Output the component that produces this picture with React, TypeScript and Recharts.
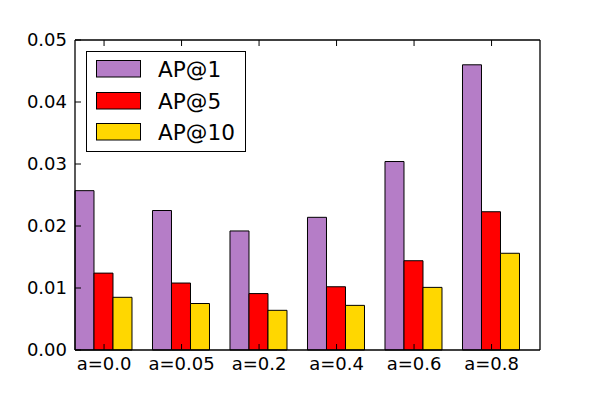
import { BarChart, Bar, XAxis, YAxis } from "recharts";

const categories = ["a=0.0", "a=0.05", "a=0.2", "a=0.4", "a=0.6", "a=0.8"];
const ap1 = [0.0257, 0.0225, 0.0192, 0.0214, 0.0304, 0.046];
const ap5 = [0.0124, 0.0108, 0.0091, 0.0102, 0.0144, 0.0223];
const ap10 = [0.0085, 0.0075, 0.0064, 0.0072, 0.0101, 0.0156];
const yTicks = [0, 0.01, 0.02, 0.03, 0.04, 0.05];

const SERIES = [
  { key: "ap1", name: "AP@1", color: "#b57dc7" },
  { key: "ap5", name: "AP@5", color: "#ff0000" },
  { key: "ap10", name: "AP@10", color: "#ffd700" },
];

const FONT = "'DejaVu Sans', sans-serif";
const TICK_LEN = 6;

// inward tick marks (matplotlib classic style), drawn by the tick renderer
function makeTick(side: "bottom" | "top" | "left" | "right", margin: number, fmt?: (v: any) => string) {
  return (props: any) => {
    const { x, y, payload } = props;
    let line;
    if (side === "bottom") line = <line x1={x} x2={x} y1={y - margin} y2={y - margin - TICK_LEN} stroke="#000" />;
    else if (side === "top") line = <line x1={x} x2={x} y1={y + margin} y2={y + margin + TICK_LEN} stroke="#000" />;
    else if (side === "left") line = <line x1={x + margin} x2={x + margin + TICK_LEN} y1={y} y2={y} stroke="#000" />;
    else line = <line x1={x - margin} x2={x - margin - TICK_LEN} y1={y} y2={y} stroke="#000" />;
    let label = null;
    if (fmt) {
      const txt = fmt(payload.value);
      label = side === "bottom"
        ? <text x={x} y={y} dy="0.71em" textAnchor="middle" fill="#000" fontSize={18} fontFamily={FONT}>{txt}</text>
        : <text x={x} y={y} dy="0.355em" textAnchor="end" fill="#000" fontSize={18} fontFamily={FONT}>{txt}</text>;
    }
    return <g>{line}{label}</g>;
  };
}

export default function App() {
  const data = categories.map((c, i) => ({ cat: c, ap1: ap1[i], ap5: ap5[i], ap10: ap10[i] }));
  const pad = { left: -9.7, right: 9.7 };
  const axisLine = { stroke: "#000", strokeWidth: 1.3 };
  return (
    <div style={{ position: "absolute", left: 0, top: 0, width: 600, height: 400, background: "#fff" }}>
      <BarChart width={600} height={400} data={data} margin={{ top: 39, right: 0, bottom: 0, left: 0 }}
        barCategoryGap="12.5%" barGap={0}>
        {SERIES.map((s) => (
          <Bar key={s.key} dataKey={s.key} name={s.name} fill={s.color} stroke="#000" strokeWidth={1}
            isAnimationActive={false} />
        ))}
        <XAxis dataKey="cat" height={50} padding={pad} tick={makeTick("bottom", 7, (v) => String(v))}
          tickSize={0} tickMargin={7} tickLine={false} axisLine={axisLine} interval={0} />
        <XAxis xAxisId="top" dataKey="cat" orientation="top" height={1} padding={pad} tick={makeTick("top", 0)}
          tickSize={0} tickMargin={0} tickLine={false} axisLine={axisLine} interval={0} />
        <YAxis width={75} domain={[0, 0.05]} ticks={yTicks} tick={makeTick("left", 8, (v: number) => v.toFixed(2))}
          tickSize={0} tickMargin={8} tickLine={false} axisLine={axisLine} />
        <YAxis yAxisId="right" orientation="right" width={60} domain={[0, 0.05]} ticks={yTicks}
          tick={makeTick("right", 0)} tickSize={0} tickMargin={0} tickLine={false} axisLine={axisLine} />
      </BarChart>
      <div style={{ position: "absolute", left: 86, top: 51, width: 158, height: 99, border: "1.3px solid #000",
        background: "#fff", fontFamily: FONT, fontSize: 21.6, color: "#000" }}>
        {SERIES.map((s, i) => (
          <div key={s.key} style={{ position: "absolute", left: 9, top: 9 + i * 31.7, height: 17, display: "flex", alignItems: "center" }}>
            <svg width={46} height={19} style={{ display: "block" }}>
              <rect x={0.5} y={0.5} width={44} height={16.5} fill={s.color} stroke="#000" strokeWidth={1} />
            </svg>
            <span style={{ marginLeft: 16, lineHeight: "17px", whiteSpace: "nowrap" }}>{s.name}</span>
          </div>
        ))}
      </div>
    </div>
  );
}
